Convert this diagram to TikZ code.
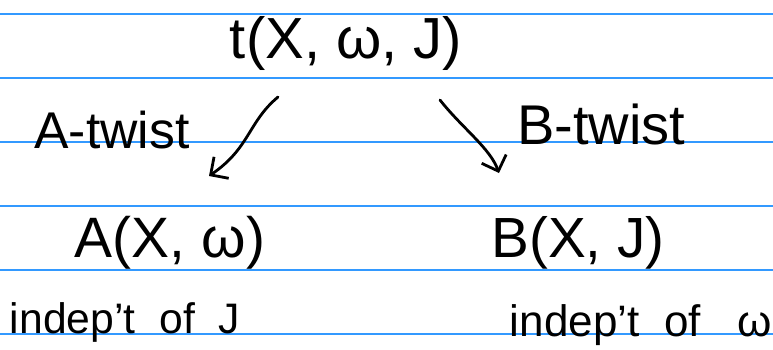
\documentclass[tikz,border=0pt]{standalone}
\usepackage{fontspec}
\setmainfont{Liberation Sans}
\usetikzlibrary{arrows.meta}
\begin{document}
\begin{tikzpicture}[x=1pt,y=1pt,
  hw/.style={inner sep=0pt, anchor=center, text=black},
  rule/.style={draw={rgb,255:red,51;green,153;blue,255}, line width=1.3pt},
  pen/.style={line width=2.8pt, line cap=round, line join=round,
    -{Straight Barb[length=13pt,width=26pt,line width=2.8pt]}}]
\useasboundingbox (0,0) rectangle (773,-349);
\fill[white] (0,0) rectangle (773,-349);
\foreach \y in {14,78,142,206,270,334} \draw[rule] (0,-\y) -- (773,-\y);

\node[hw] (t) at (346,-43) {\resizebox{232pt}{!}{t(X, ω, J)}};
\node[hw] (at) at (112,-130) {\resizebox{155pt}{!}{A-twist}};
\node[hw] (bt) at (601,-124) {\resizebox{168pt}{!}{B-twist}};
\node[hw] (A) at (170,-243) {\resizebox{190pt}{!}{A(X, ω)}};
\node[hw] (B) at (578,-243) {\resizebox{173pt}{!}{B(X, J)}};
\node[hw] (ia) at (125,-322) {\resizebox{230pt}{!}{indep't\ \ of\ \ J}};
\node[hw] (ib) at (641,-325) {\resizebox{262pt}{!}{indep't\ \ of\ \ \ ω}};

\coordinate (a0) at (278,-97);
\coordinate (a1) at (209,-176);
\coordinate (b0) at (440,-100);
\coordinate (b1) at (499,-173);
\draw[pen] (a0) .. controls (248,-122) and (250,-148) .. (a1);
\draw[pen] (b0) .. controls (462,-128) and (490,-148) .. (b1);
\end{tikzpicture}
\end{document}
